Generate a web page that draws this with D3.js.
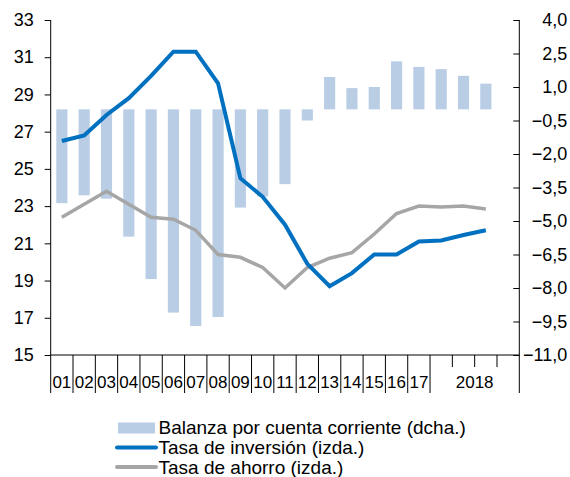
<!DOCTYPE html>
<html>
<head>
<meta charset="utf-8">
<script src="https://cdn.jsdelivr.net/npm/d3@7"></script>
<style>
  body { margin: 0; background: #fff; }
  svg text { font-family: "Liberation Sans", Arial, sans-serif; fill: #000; }
</style>
</head>
<body>
<div id="chart"></div>
<script>
// periods: annual 2001-2017, then quarters of 2018 (last quarter slot empty)
var periods = ["01","02","03","04","05","06","07","08","09","10","11","12","13","14","15","16","17","18T1","18T2","18T3","18T4"];
var yearLabels = ["01","02","03","04","05","06","07","08","09","10","11","12","13","14","15","16","17"];
var balanza  = [-4.2, -3.85, -4.0, -5.7, -7.6, -9.1, -9.7, -9.3, -4.4, -3.9, -3.35, -0.5, 1.45, 0.95, 1.0, 2.15, 1.9, 1.8, 1.5, 1.15];
var inversion = [26.5, 26.8, 27.9, 28.8, 30.0, 31.3, 31.3, 29.6, 24.5, 23.5, 22.0, 19.9, 18.7, 19.4, 20.4, 20.4, 21.1, 21.15, 21.45, 21.7];
var ahorro   = [22.4, 23.1, 23.8, 23.1, 22.4, 22.3, 21.7, 20.4, 20.25, 19.7, 18.6, 19.7, 20.2, 20.5, 21.5, 22.6, 23.0, 22.95, 23.0, 22.85];
var leftTicks = [15, 17, 19, 21, 23, 25, 27, 29, 31, 33];
var rightTicks = [-11, -9.5, -8, -6.5, -5, -3.5, -2, -0.5, 1, 2.5, 4];
var legendItems = ["Balanza por cuenta corriente (dcha.)", "Tasa de inversión (izda.)", "Tasa de ahorro (izda.)"];

var width = 570, height = 477;
var plotLeft = 50.7, plotRight = 519.3, plotTop = 20, plotBottom = 355, tickBottom = 393;

var svg = d3.select("#chart").append("svg")
  .attr("width", width)
  .attr("height", height);

var x = d3.scaleBand().domain(periods).range([plotLeft, plotRight]).padding(0);
var yL = d3.scaleLinear().domain([15, 33]).range([plotBottom, plotTop]);
var yR = d3.scaleLinear().domain([-11, 4]).range([plotBottom, plotTop]);

// bars
svg.selectAll(".bar")
  .data(balanza)
  .enter()
  .append("rect")
  .attr("class", "bar")
  .attr("fill", "#b9cde5")
  .attr("x", function(d, i) { return x(periods[i]) + x.bandwidth() * 0.25; })
  .attr("width", x.bandwidth() * 0.5)
  .attr("y", function(d) { return yR(Math.max(0, d)); })
  .attr("height", function(d) { return Math.abs(yR(d) - yR(0)); });

// lines
var line = function(scale) {
  return d3.line()
    .x(function(d, i) { return x(periods[i]) + x.bandwidth() / 2; })
    .y(function(d) { return scale(d); });
};

svg.append("path")
  .attr("d", line(yL)(ahorro))
  .attr("fill", "none")
  .attr("stroke", "#a6a6a6")
  .attr("stroke-width", 3.5);

svg.append("path")
  .attr("d", line(yL)(inversion))
  .attr("fill", "none")
  .attr("stroke", "#0070c0")
  .attr("stroke-width", 4);

// left axis
var leftAxis = svg.append("g").attr("transform", "translate(" + plotLeft + ",0)")
  .call(d3.axisLeft(yL).tickValues(leftTicks).tickSize(6).tickSizeOuter(0).tickPadding(11)
    .tickFormat(d3.format("d")));
leftAxis.selectAll("text").style("font-size", "18px");

// right axis (ticks inward)
var rightAxis = svg.append("g").attr("transform", "translate(" + plotRight + ",0)")
  .call(d3.axisLeft(yR).tickValues(rightTicks).tickSize(6).tickSizeOuter(0)
    .tickFormat(function(d) { return d3.format(".1f")(d).replace(".", ","); }));
rightAxis.selectAll("text")
  .attr("x", 48)
  .attr("text-anchor", "end")
  .style("font-size", "18px");

svg.selectAll(".domain").remove();
svg.selectAll(".tick line").attr("stroke", "#000");

// axis lines
svg.append("line").attr("x1", plotLeft).attr("x2", plotLeft).attr("y1", plotTop).attr("y2", tickBottom).attr("stroke", "#000");
svg.append("line").attr("x1", plotRight).attr("x2", plotRight).attr("y1", plotTop).attr("y2", tickBottom).attr("stroke", "#000");
svg.append("line").attr("x1", plotLeft).attr("x2", plotRight).attr("y1", plotBottom).attr("y2", plotBottom).attr("stroke", "#000");

// x ticks: long at year boundaries, short between quarters of 2018
svg.selectAll(".xtick")
  .data(periods.slice(1))
  .enter()
  .append("line")
  .attr("x1", function(d) { return x(d); })
  .attr("x2", function(d) { return x(d); })
  .attr("y1", plotBottom)
  .attr("y2", function(d) { return (d.length > 2 && d !== "18T1") ? plotBottom + 12 : tickBottom; })
  .attr("stroke", "#000");

svg.selectAll(".xlab")
  .data(yearLabels)
  .enter()
  .append("text")
  .attr("x", function(d) { return x(d) + x.bandwidth() / 2; })
  .attr("y", 382)
  .attr("dy", "0.35em")
  .attr("text-anchor", "middle")
  .style("font-size", "17px")
  .text(function(d) { return d; });

svg.append("text")
  .attr("x", (x("18T1") + plotRight) / 2)
  .attr("y", 382)
  .attr("dy", "0.35em")
  .attr("text-anchor", "middle")
  .style("font-size", "17px")
  .text("2018");

// legend
var lg = svg.append("g");
var legendY = [427.5, 447.5, 467];
lg.append("rect").attr("x", 118).attr("y", 422.5).attr("width", 37).attr("height", 11).attr("fill", "#b9cde5");
lg.append("line").attr("x1", 117).attr("x2", 156).attr("y1", legendY[1]).attr("y2", legendY[1])
  .attr("stroke", "#0070c0").attr("stroke-width", 4).attr("stroke-linecap", "round");
lg.append("line").attr("x1", 117).attr("x2", 156).attr("y1", legendY[2]).attr("y2", legendY[2])
  .attr("stroke", "#a6a6a6").attr("stroke-width", 4).attr("stroke-linecap", "round");
lg.selectAll("text")
  .data(legendItems)
  .enter()
  .append("text")
  .attr("x", 158.5)
  .attr("y", function(d, i) { return legendY[i]; })
  .attr("dy", "0.35em")
  .style("font-size", "19px")
  .text(function(d) { return d; });
</script>
</body>
</html>
